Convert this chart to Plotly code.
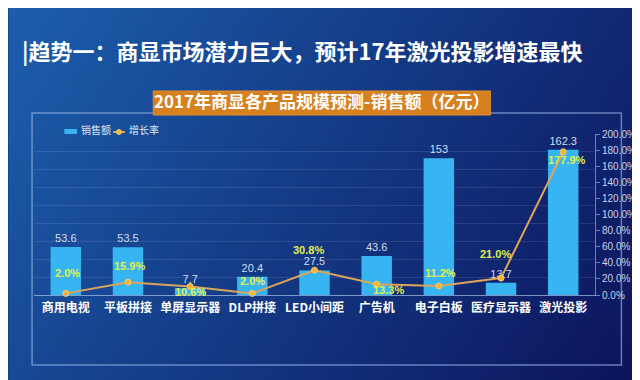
import base64, struct, zlib
import plotly.graph_objects as go

categories = ["商用电视", "平板拼接", "单屏显示器", "DLP拼接", "LED小间距", "广告机", "电子白板", "医疗显示器", "激光投影"]
sales = [53.6, 53.5, 7.7, 20.4, 27.5, 43.6, 153, 13.7, 162.3]
growth = [2.0, 15.9, 10.6, 2.0, 30.8, 13.3, 11.2, 21.0, 177.9]

# label offsets (pixels) for the growth-rate labels, relative to their points
growth_dx = [2, 2, 0, 0, -6, 12, 2, -6, 4]
growth_dy = [20, 16, -6, 12, 20, -6, 13, 24, -8]

W, H = 640, 380
PL, PR, PT, PB = 26, 600, 126, 287  # plot area in pixels


def px2x(px):
    return (px - PL) / (PR - PL)


def px2y(py):
    return (PB - py) / (PB - PT)


def gradient_png(w, h):
    c0 = (28, 94, 172)
    c1 = (12, 20, 92)
    raw = b""
    for j in range(h):
        row = b"\x00"
        for i in range(w):
            t = 0.72 * i / (w - 1) + 0.28 * j / (h - 1)
            t = max(0.0, min(1.0, t))
            col = tuple(int(round(c0[k] + (c1[k] - c0[k]) * t)) for k in range(3))
            row += bytes(col)
        raw += row

    def chunk(tag, data):
        c = struct.pack(">I", len(data)) + tag + data
        return c + struct.pack(">I", zlib.crc32(tag + data) & 0xffffffff)

    png = b"\x89PNG\r\n\x1a\n"
    png += chunk(b"IHDR", struct.pack(">IIBBBBB", w, h, 8, 2, 0, 0, 0))
    png += chunk(b"IDAT", zlib.compress(raw, 9))
    png += chunk(b"IEND", b"")
    return "data:image/png;base64," + base64.b64encode(png).decode()


FONT = "Liberation Sans, Noto Sans CJK SC, sans-serif"
CJK = "Noto Sans CJK SC, Liberation Sans, sans-serif"
BAR_COLOR = "#36b5f2"
LINE_COLOR = "#dca55a"
MARK_COLOR = "#f2b530"

fig = go.Figure()
fig.add_trace(go.Bar(
    x=categories, y=sales, name="销售额",
    marker=dict(color=BAR_COLOR, line=dict(width=0)),
    text=[f"{v:g}" for v in sales], textposition="outside",
    textfont=dict(color="#d4deec", size=11, family=FONT),
    cliponaxis=False, width=0.49,
))
fig.add_trace(go.Scatter(
    x=categories, y=growth, name="增长率", yaxis="y2",
    mode="lines+markers",
    line=dict(color=LINE_COLOR, width=2),
    marker=dict(color=MARK_COLOR, size=6, line=dict(color="#f7d070", width=1)),
    cliponaxis=False,
))

annotations = [
    dict(text="|趋势一：商显市场潜力巨大，预计17年激光投影增速最快", xref="paper", yref="paper",
         x=px2x(12), y=px2y(42), xanchor="left", yanchor="middle", showarrow=False,
         font=dict(size=22, color="#ffffff", family=CJK, weight=700)),
    dict(text="2017年商显各产品规模预测-销售额（亿元）", xref="paper", yref="paper",
         x=px2x(320.5), y=px2y(92), xanchor="center", yanchor="middle", showarrow=False,
         font=dict(size=17, color="#ffffff", family=CJK, weight=700)),
    dict(text="销售额", xref="paper", yref="paper", x=px2x(72), y=px2y(121),
         xanchor="left", yanchor="middle", showarrow=False,
         font=dict(size=10, color="#dfe8f5", family=CJK)),
    dict(text="增长率", xref="paper", yref="paper", x=px2x(121), y=px2y(121),
         xanchor="left", yanchor="middle", showarrow=False,
         font=dict(size=10, color="#dfe8f5", family=CJK)),
]
for cat, g, dx, dy in zip(categories, growth, growth_dx, growth_dy):
    annotations.append(dict(
        text=f"{g:.1f}%", x=cat, y=g, xref="x", yref="y2", showarrow=False,
        xanchor="center", yanchor="middle", xshift=dx, yshift=dy,
        font=dict(size=11, color="#e2f04c", family=FONT, weight=700)))

fig.update_layout(
    width=W, height=H, autosize=False,
    margin=dict(l=PL, r=W - PR, t=PT, b=H - PB, pad=0),
    paper_bgcolor="#123a8a", plot_bgcolor="rgba(0,0,0,0)",
    font=dict(family=FONT, color="#ffffff"),
    showlegend=False,
    bargap=0.5,
    xaxis=dict(showline=True, linecolor="rgba(170,195,235,0.7)", linewidth=1,
               ticks="", showgrid=False,
               tickfont=dict(size=12, color="#ffffff", family=CJK, weight=700),
               ticklabelstandoff=2, fixedrange=True),
    yaxis=dict(range=[0, 180], dtick=20, showticklabels=False, showgrid=True,
               gridcolor="rgba(255,255,255,0.10)", gridwidth=1, zeroline=False,
               showline=False, fixedrange=True),
    yaxis2=dict(range=[0, 200], dtick=20, overlaying="y", side="right", showgrid=False,
                zeroline=False, showline=True, linecolor="rgba(170,195,235,0.6)",
                ticks="outside", ticklen=4, tickcolor="rgba(170,195,235,0.6)",
                tickformat=".1f", ticksuffix="%",
                tickfont=dict(size=10, color="#c9d4e8", family=FONT), fixedrange=True),
    images=[dict(source=gradient_png(64, 38), xref="paper", yref="paper",
                 x=px2x(0), y=px2y(0), sizex=px2x(W) - px2x(0), sizey=px2y(0) - px2y(H),
                 xanchor="left", yanchor="top", sizing="stretch", layer="below")],
    shapes=[
        dict(type="rect", xref="paper", yref="paper",
             x0=px2x(24), x1=px2x(627), y0=px2y(357), y1=px2y(105),
             line=dict(color="rgba(150,180,230,0.65)", width=1.5), fillcolor="rgba(0,0,0,0)",
             layer="below"),
        dict(type="rect", xref="paper", yref="paper",
             x0=px2x(148), x1=px2x(493), y0=px2y(107), y1=px2y(83),
             line=dict(color="#e08e2e", width=1), fillcolor="#d7801f", layer="above"),
        # custom legend symbols
        dict(type="rect", xref="paper", yref="paper",
             x0=px2x(57), x1=px2x(70), y0=px2y(126), y1=px2y(121),
             line=dict(width=0), fillcolor=BAR_COLOR, layer="above"),
        dict(type="line", xref="paper", yref="paper",
             x0=px2x(107), x1=px2x(119), y0=px2y(124), y1=px2y(124),
             line=dict(color=LINE_COLOR, width=2), layer="above"),
        dict(type="circle", xref="paper", yref="paper",
             x0=px2x(110.5), x1=px2x(115.5), y0=px2y(126.5), y1=px2y(121.5),
             line=dict(color="#f7d070", width=1), fillcolor=MARK_COLOR, layer="above"),
    ],
    annotations=annotations,
)

fig.write_html("out.html")
